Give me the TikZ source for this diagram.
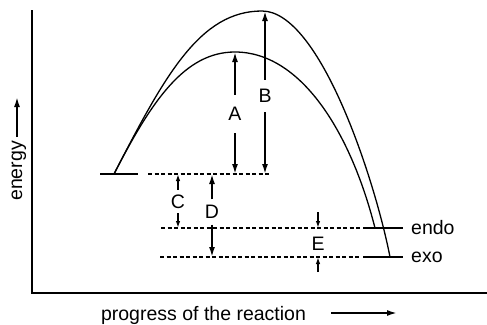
\documentclass[tikz,border=0pt]{standalone}
\usepackage{fontspec}
\setmainfont{Liberation Sans}
\usetikzlibrary{arrows.meta}
\begin{document}
\begin{tikzpicture}[x=1pt,y=-1pt,
  lbl/.style={font=\fontsize{19.5}{23}\selectfont, inner sep=0pt},
  gaplbl/.style={lbl, minimum height=#1},
  axis/.style={line width=2pt},
  curve/.style={line width=1.3pt},
  lvl/.style={line width=2pt},
  dsh/.style={line width=1.3pt, dash pattern=on 4pt off 2.5pt},
  arr/.style={line width=1.8pt, -{Latex[length=10pt,width=6pt]}},
  sarr/.style={line width=1.4pt, -{Latex[length=7pt,width=4.5pt]}},
]
\useasboundingbox (0,0) rectangle (487,324);
% axes
\coordinate (ytop) at (32,10);
\coordinate (orig) at (32,293);
\coordinate (xend) at (487,293);
\draw[axis] (ytop) -- (orig) -- (xend);
% axis labels
\node[lbl, rotate=90, anchor=base] (en) at (22,171) {energy};
\coordinate (ea1) at (17,137);
\coordinate (ea2) at (17,97);
\draw[arr] (ea1) -- (ea2);
\node[lbl, anchor=base] (pr) at (203.5,320) {progress of the reaction};
\coordinate (pa1) at (331,313);
\coordinate (pa2) at (397,313);
\draw[arr] (pa1) -- (pa2);
% levels
\coordinate (r1) at (100,174);
\coordinate (r2) at (138,174);
\coordinate (rd1) at (148,174);
\coordinate (rd2) at (270,174);
\draw[lvl] (r1) -- (r2);
\draw[dsh] (rd1) -- (rd2);
\coordinate (nd1) at (161,228);
\coordinate (nd2) at (360,228);
\coordinate (n1) at (363,228);
\coordinate (n2) at (403,228);
\draw[dsh] (nd1) -- (nd2);
\draw[lvl] (n1) -- (n2);
\coordinate (xd1) at (160,257);
\coordinate (xd2) at (360,257);
\coordinate (x1) at (363,257);
\coordinate (x2) at (403,257);
\draw[dsh] (xd1) -- (xd2);
\draw[lvl] (x1) -- (x2);
\node[lbl, anchor=west] (endo) at (411,228) {endo};
\node[lbl, anchor=west] (exo) at (411,257) {exo};
% curves
\coordinate (start) at (114,174);
\coordinate (ts1) at (235,52);
\coordinate (ts2) at (262,11);
\coordinate (pendo) at (375,228);
\coordinate (pexo) at (390,257);
\draw[curve] (start) .. controls (152,100) and (185,52) .. (ts1)
  .. controls (300,52) and (350,130) .. (pendo);
\draw[curve] (start) .. controls (165,75) and (200,11) .. (ts2)
  .. controls (320,11) and (375,180) .. (pexo);
% A
\node[gaplbl=38pt] (A) at (235,114) {A};
\coordinate (abot) at (235,174);
\draw[arr] (A.north) -- (ts1);
\draw[arr] (A.south) -- (abot);
% B
\node[gaplbl=32pt] (B) at (265,96) {B};
\coordinate (btop) at (265,11);
\coordinate (bbot) at (265,174);
\draw[arr] (B.north) -- (btop);
\draw[arr] (B.south) -- (bbot);
% C
\node[gaplbl=23pt] (C) at (178,201.5) {C};
\coordinate (ctop) at (178,174);
\coordinate (cbot) at (178,228);
\draw[sarr] (C.north) -- (ctop);
\draw[sarr] (C.south) -- (cbot);
% D
\node[gaplbl=25pt] (D) at (212,212) {D};
\coordinate (dtop) at (212,174);
\coordinate (dbot) at (212,257);
\draw[arr] (D.north) -- (dtop);
\draw[arr] (D.south) -- (dbot);
% E
\node[lbl] (E) at (318,243.5) {E};
\coordinate (e1) at (318,212);
\coordinate (e2) at (318,272);
\coordinate (etop) at (318,228);
\coordinate (ebot) at (318,257);
\draw[sarr] (e1) -- (etop);
\draw[sarr] (e2) -- (ebot);
\end{tikzpicture}
\end{document}
